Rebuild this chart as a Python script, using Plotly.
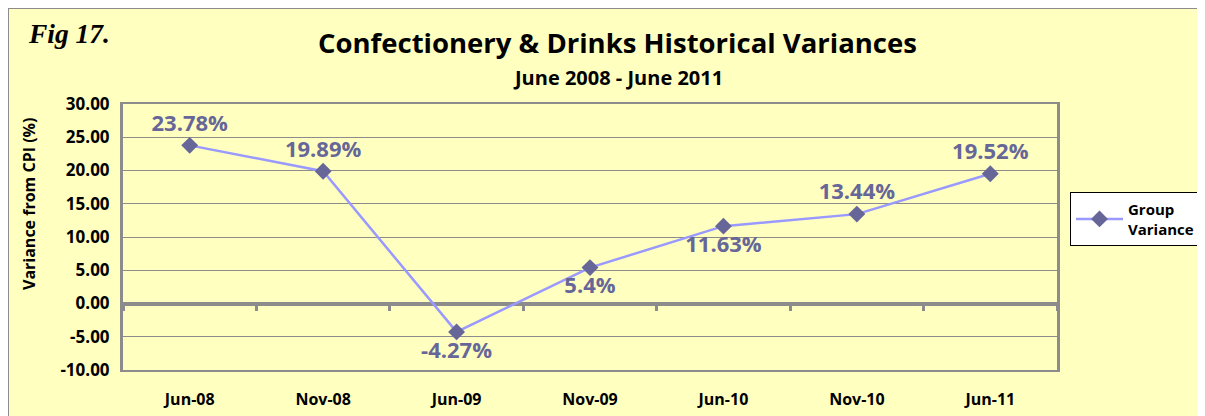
import plotly.graph_objects as go

months = ["Jun-08", "Nov-08", "Jun-09", "Nov-09", "Jun-10", "Nov-10", "Jun-11"]
variance = [23.78, 19.89, -4.27, 5.4, 11.63, 13.44, 19.52]
point_labels = ["23.78%", "19.89%", "-4.27%", "5.4%", "11.63%", "13.44%", "19.52%"]
label_pos = ["top center", "top center", "bottom center", "bottom center",
             "bottom center", "top center", "top center"]
y_ticks = [30, 25, 20, 15, 10, 5, 0, -5, -10]

bg = "#FFFFC0"
grey = "#8C8C8C"
font = "Open Sans"

idx = list(range(len(months)))

# page body has an 8px margin, so the figure starts at (8, 8) in the window
W, H = 1197, 408
L, R, T, B = 115, 148, 96, 46
pw, ph = W - L - R, H - T - B

fig = go.Figure()
fig.add_trace(go.Scatter(
    x=idx, y=variance,
    mode="lines+markers+text",
    name="Group<br>Variance",
    showlegend=False,
    line=dict(color="#9999FF", width=2.5),
    marker=dict(symbol="diamond", size=13, color="#666699"),
    text=point_labels,
    textposition=label_pos,
    textfont=dict(family=font, size=22, color="#666699", weight="bold"),
    cliponaxis=False,
))
# legend entry (line + marker sample)
fig.add_trace(go.Scatter(
    x=[None], y=[None], mode="lines+markers", name="Group<br>Variance",
    line=dict(color="#9999FF", width=2.5),
    marker=dict(symbol="diamond", size=13, color="#666699"),
))
# empty trace so the tick marks on the zero line get drawn
fig.add_trace(go.Scatter(x=[None], y=[None], xaxis="x2", showlegend=False))

fig.update_layout(
    width=W, height=H,
    margin=dict(l=L, r=R, t=T, b=B, autoexpand=False),
    paper_bgcolor=bg,
    plot_bgcolor=bg,
    font=dict(family=font, color="black"),
    showlegend=True,
    legend=dict(
        x=(1070 - 123) / pw, xanchor="left", y=0.568, yanchor="middle",
        bgcolor="white", bordercolor="black", borderwidth=1,
        font=dict(family=font, size=15, color="black", weight="bold"),
        itemwidth=47,
    ),
    xaxis=dict(
        range=[-0.5, 6.5], automargin=False,
        tickvals=idx, ticktext=months,
        showgrid=False, zeroline=False,
        ticks="", showline=True, linecolor=grey, linewidth=2, mirror=True,
        tickfont=dict(family=font, size=16, color="black", weight="bold"),
        ticklabelstandoff=14,
    ),
    xaxis2=dict(
        overlaying="x", anchor="free", position=0.25, side="bottom",
        range=[-0.5, 6.5], automargin=False,
        tickvals=[i - 0.5 for i in range(len(months) + 1)],
        ticks="outside", ticklen=6, tickwidth=3, tickcolor=grey,
        showticklabels=False, showgrid=False, zeroline=False, showline=False,
    ),
    yaxis=dict(
        range=[-10, 30], automargin=False,
        tickvals=y_ticks,
        ticktext=[f"{v:.2f}" for v in y_ticks],
        showgrid=True, gridcolor=grey, gridwidth=1,
        zeroline=True, zerolinecolor=grey, zerolinewidth=4,
        showline=True, linecolor=grey, linewidth=3, mirror=True,
        ticks="", ticklabelstandoff=7,
        tickfont=dict(family=font, size=17, color="black", weight="bold"),
    ),
)

fig.add_annotation(
    text="Variance from CPI (%)", textangle=-90,
    xref="paper", yref="paper", x=0, y=1, xshift=29 - 123, yshift=-(204 - 104),
    showarrow=False, xanchor="center", yanchor="middle",
    font=dict(family=font, size=16, color="black", weight="bold"),
)
fig.add_annotation(
    text="Confectionery &amp; Drinks Historical Variances",
    xref="paper", yref="paper", x=0.5, y=1, xshift=27, yshift=62,
    showarrow=False, xanchor="center", yanchor="middle",
    font=dict(family=font, size=27.5, color="black", weight="bold"),
)
fig.add_annotation(
    text="June 2008 - June 2011",
    xref="paper", yref="paper", x=0.5, y=1, xshift=28, yshift=27,
    showarrow=False, xanchor="center", yanchor="middle",
    font=dict(family=font, size=20, color="black", weight="bold"),
)
fig.add_annotation(
    text="<b><i>Fig 17.</i></b>",
    xref="paper", yref="paper", x=0, y=1, xshift=-97, yshift=71,
    showarrow=False, xanchor="left", yanchor="middle",
    font=dict(family="Liberation Serif", size=27.5, color="black"),
)
# outer frame of the chart sheet
fig.add_shape(
    type="rect", xref="paper", yref="paper",
    x0=-L / pw, x1=1.3, y0=-0.3, y1=1 + T / ph,
    line=dict(color=grey, width=2), fillcolor="rgba(0,0,0,0)", layer="below",
)

fig.write_html("out.html")
